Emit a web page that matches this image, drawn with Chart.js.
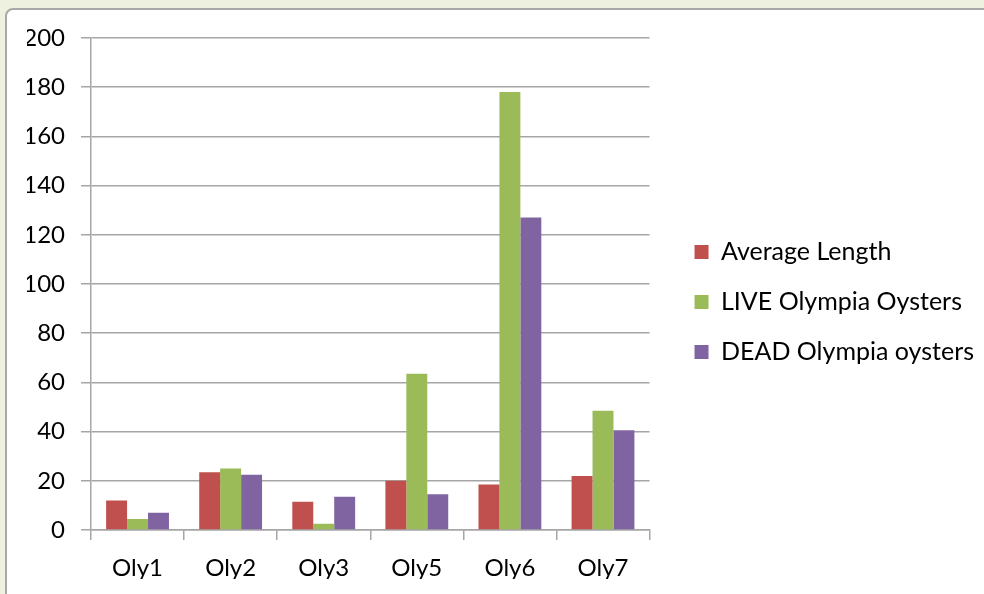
<!DOCTYPE html>
<html>
<head>
<meta charset="utf-8">
<script src="https://cdn.jsdelivr.net/npm/chart.js@4"></script>
<style>
  html, body { margin: 0; padding: 0; background: #eef1e0; overflow: hidden; }
  #frame {
    position: absolute; left: 5px; top: 8px; width: 1000px; height: 620px;
    background: #ffffff; border: 2px solid #a8a8a8; border-top-left-radius: 8px;
  }
  #wrap { position: absolute; left: 0; top: 0; width: 984px; height: 594px; }
</style>
</head>
<body>
<div id="frame"></div>
<div id="wrap"><canvas id="chart"></canvas></div>
<script>
// Data
const sites = ['Oly1', 'Oly2', 'Oly3', 'Oly5', 'Oly6', 'Oly7'];
const averageLength = [12, 23.5, 11.5, 20, 18.5, 22];
const liveOysters = [4.5, 25, 2.5, 63.5, 178, 48.5];
const deadOysters = [7, 22.5, 13.5, 14.5, 127, 40.5];

const tickFont = { family: 'Lato', size: 24 };
const legendFont = { family: 'Lato', size: 25 };
const gridGray = '#a6a6a6';

function drawChart() {
    new Chart(document.getElementById('chart'), {
        type: 'bar',
        data: {
            labels: sites,
            datasets: [
                { label: 'Average Length', data: averageLength, backgroundColor: '#c0504d' },
                { label: 'LIVE Olympia Oysters', data: liveOysters, backgroundColor: '#9bbb59' },
                { label: 'DEAD Olympia oysters', data: deadOysters, backgroundColor: '#8064a2' }
            ]
        },
        options: {
            responsive: true,
            maintainAspectRatio: false,
            animation: false,
            datasets: {
                bar: { categoryPercentage: 0.675, barPercentage: 1.0 }
            },
            layout: { padding: { left: 27, top: 25, right: 0, bottom: 15 } },
            plugins: {
                tooltip: { enabled: false },
                legend: {
                    position: 'right',
                    maxWidth: 400,
                    labels: {
                        color: '#000',
                        font: legendFont,
                        boxWidth: 14,
                        boxHeight: 14,
                        padding: 25
                    }
                }
            },
            scales: {
                x: {
                    offset: true,
                    grid: {
                        offset: true,
                        drawOnChartArea: false,
                        tickLength: 10,
                        color: gridGray,
                        lineWidth: 1.5
                    },
                    border: { color: gridGray, width: 1.5 },
                    ticks: { color: '#000', font: tickFont, padding: 14, maxRotation: 0 },
                    afterFit: (scale) => { scale.height = 49; }
                },
                y: {
                    min: 0,
                    max: 200,
                    grid: { tickLength: 10, color: gridGray, lineWidth: 1.5 },
                    border: { color: gridGray, width: 1.5 },
                    ticks: { stepSize: 20, color: '#000', font: tickFont, padding: 16 },
                    afterFit: (scale) => { scale.width = 64; }
                },
                // empty spacers: above the plot and between plot and legend
                gapTop: {
                    type: 'linear',
                    axis: 'x',
                    position: 'top',
                    grid: { display: false },
                    border: { display: false },
                    ticks: { display: false },
                    afterFit: (scale) => { scale.height = 13; }
                },
                gapRight: {
                    type: 'linear',
                    position: 'right',
                    grid: { display: false },
                    border: { display: false },
                    ticks: { display: false },
                    afterFit: (scale) => { scale.width = 20; }
                }
            }
        }
    });
}

Promise.all([
    document.fonts.load('24px Lato'),
    document.fonts.load('25px Lato')
]).then(drawChart, drawChart);
</script>
</body>
</html>
